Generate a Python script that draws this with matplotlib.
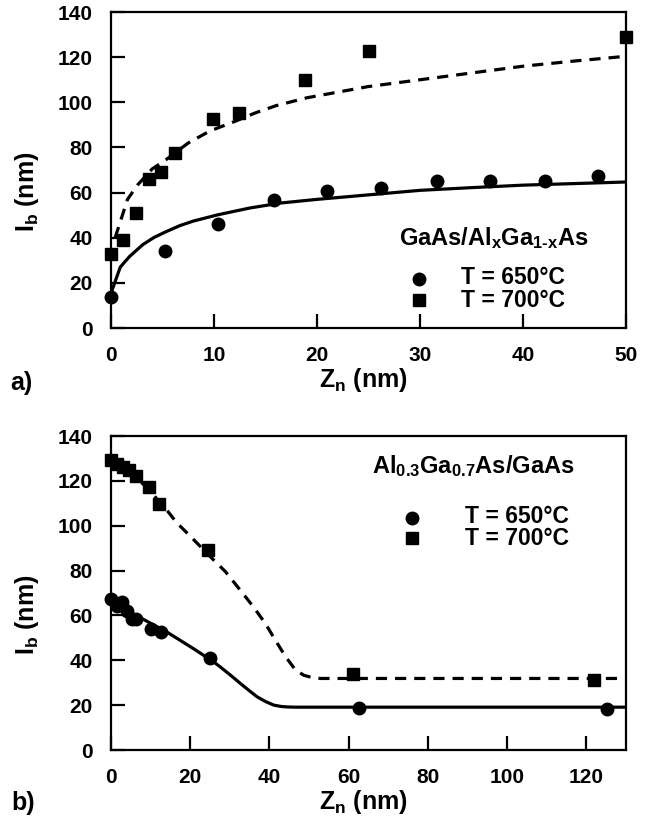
import numpy as np
import matplotlib
matplotlib.use("Agg")
import matplotlib.pyplot as plt

plt.rcParams['font.family'] = ['Liberation Sans', 'DejaVu Sans']
plt.rcParams['font.weight'] = 'bold'
plt.rcParams['mathtext.fontset'] = 'custom'
plt.rcParams['mathtext.rm'] = 'Liberation Sans:bold'
plt.rcParams['mathtext.it'] = 'Liberation Sans:bold'
plt.rcParams['mathtext.bf'] = 'Liberation Sans:bold'

# panel a) GaAs/AlxGa1-xAs
a_z650 = [0, 5.2, 10.4, 15.8, 21.0, 26.2, 31.6, 36.8, 42.1, 47.3]
a_l650 = [13.9, 34.2, 46.2, 56.9, 60.6, 62.0, 65.3, 65.0, 65.0, 67.2]
a_z700 = [0, 1.2, 2.4, 3.7, 4.9, 6.2, 9.9, 12.4, 18.8, 25.0, 50.0]
a_l700 = [32.9, 39.1, 51.0, 66.2, 69.2, 77.6, 92.4, 95.1, 109.7, 122.6, 128.8]

# fit curves
a_fit650_z = [0, 0.4, 0.9, 1.8, 3.1, 4.2, 5.4, 6.7, 8.0, 10.4, 13.5, 16.5, 20, 25, 30, 35, 40, 45, 50]
a_fit650_l = [15.4, 20.6, 27.0, 31.7, 37.0, 40.2, 42.8, 45.4, 47.4, 50.2, 53.2, 55.4, 57.0, 59.0, 61.0, 62.2, 63.3, 64.0, 64.7]
a_fit700_z = [0.4, 1.0, 1.6, 2.6, 4.0, 5.4, 7.5, 9.6, 12, 14, 16, 19, 25, 30, 35, 40, 45, 50]
a_fit700_l = [40, 48.5, 57, 63.5, 70.5, 74.8, 82, 87.3, 91.5, 95.3, 98.5, 102, 107, 110, 113, 116, 118.3, 120.4]

# panel b) Al0.3Ga0.7As/GaAs
b_z650 = [0, 1.4, 2.8, 4.0, 5.3, 6.4, 10.2, 12.6, 25.1, 62.6, 125.3]
b_l650 = [67.2, 64.4, 65.9, 61.8, 58.6, 58.3, 53.9, 52.4, 41.0, 18.7, 18.5]
b_z700 = [0, 1.5, 3.0, 4.5, 6.2, 9.6, 12.2, 24.4, 61.0, 122.0]
b_l700 = [129.2, 127.6, 126.4, 124.8, 122.2, 117.2, 109.5, 89.0, 34.1, 31.4]

b_fit650_z = [0, 5.6, 10, 14.1, 20.8, 25.9, 27.6, 30, 32.7, 35, 36.9, 39, 41.1, 43, 44.5, 46.5, 130]
b_fit650_l = [64.0, 60.7, 56.5, 52.6, 45.2, 39.3, 37.0, 33.6, 29.6, 26.3, 23.7, 21.6, 20.0, 19.4, 19.2, 19.1, 19.1]
b_fit700_z = [0, 4, 9.3, 12.2, 13.9, 16.5, 20.3, 24.9, 28.9, 32.7, 36.0, 39.0, 41.5, 44.1, 46.6, 48.7, 50.8, 52.9, 130]
b_fit700_l = [129.6, 124, 117, 110.5, 107.4, 101.5, 94.8, 86.5, 79.5, 71.1, 63.7, 56.3, 48.9, 41.5, 35.6, 33.3, 32.3, 31.9, 31.9]

yticks = [0, 20, 40, 60, 80, 100, 120, 140]
a_xticks = [0, 10, 20, 30, 40, 50]
b_xticks = [0, 20, 40, 60, 80, 100, 120]

fig = plt.figure(figsize=(6.62, 8.25), dpi=100)
axA = fig.add_axes([0.1677, 0.6024, 0.778, 0.383])
axB = fig.add_axes([0.1677, 0.0909, 0.778, 0.3806])


def style(ax, xlim, xticks):
    ax.set_xlim(*xlim)
    ax.set_ylim(0, 140)
    ax.set_xticks(xticks)
    ax.set_yticks(yticks)
    for s in ax.spines.values():
        s.set_linewidth(1.6)
    ax.tick_params(direction='in', length=10, width=1.6, pad=13,
                   labelsize=15, top=False, right=False)
    for lab in ax.get_xticklabels() + ax.get_yticklabels():
        lab.set_fontweight('bold')
    ax.set_xlabel('Z$_n$ (nm)', fontsize=18, fontweight='bold')
    ax.set_ylabel('I$_b$ (nm)', fontsize=18, fontweight='bold')
    ax.xaxis.set_label_coords(0.49, -0.12)
    ax.yaxis.set_label_coords(-0.135, 0.43)


def draw(ax, fz650, fl650, fz700, fl700, z650, l650, z700, l700):
    ax.plot(fz650, fl650, color='black', lw=2.3, solid_joinstyle='round', zorder=2)
    ax.plot(fz700, fl700, color='black', lw=2.3, dashes=(3.5, 2.5), zorder=2)
    ax.plot(z650, l650, 'o', color='black', ms=9, clip_on=False, zorder=3)
    ax.plot(z700, l700, 's', color='black', ms=8.8, clip_on=False, zorder=3)


style(axA, (0, 50), a_xticks)
draw(axA, a_fit650_z, a_fit650_l, a_fit700_z, a_fit700_l, a_z650, a_l650, a_z700, a_l700)
style(axB, (0, 130), b_xticks)
draw(axB, b_fit650_z, b_fit650_l, b_fit700_z, b_fit700_l, b_z650, b_l650, b_z700, b_l700)

# in-plot legends
axA.text(28.0, 40, r'GaAs/Al$_x$Ga$_{1\text{-}x}$As', fontsize=17, fontweight='bold', va='center')
axA.plot([29.9], [21.8], 'o', color='black', ms=9)
axA.plot([29.9], [12.4], 's', color='black', ms=8.8)
axA.text(34.0, 22.2, 'T = 650°C', fontsize=16.5, fontweight='bold', va='center')
axA.text(34.0, 12.3, 'T = 700°C', fontsize=16.5, fontweight='bold', va='center')

axB.text(66.0, 126.7, 'Al$_{0.3}$Ga$_{0.7}$As/GaAs', fontsize=17, fontweight='bold', va='center')
axB.plot([76.0], [103.3], 'o', color='black', ms=9)
axB.plot([76.0], [94.5], 's', color='black', ms=8.8)
axB.text(89.4, 104.0, 'T = 650°C', fontsize=16.5, fontweight='bold', va='center')
axB.text(89.4, 94.1, 'T = 700°C', fontsize=16.5, fontweight='bold', va='center')

fig.text(0.033, 0.536, 'a)', fontsize=18, fontweight='bold', ha='center', va='center')
fig.text(0.035, 0.027, 'b)', fontsize=18, fontweight='bold', ha='center', va='center')

fig.savefig('out.png', dpi=100)
